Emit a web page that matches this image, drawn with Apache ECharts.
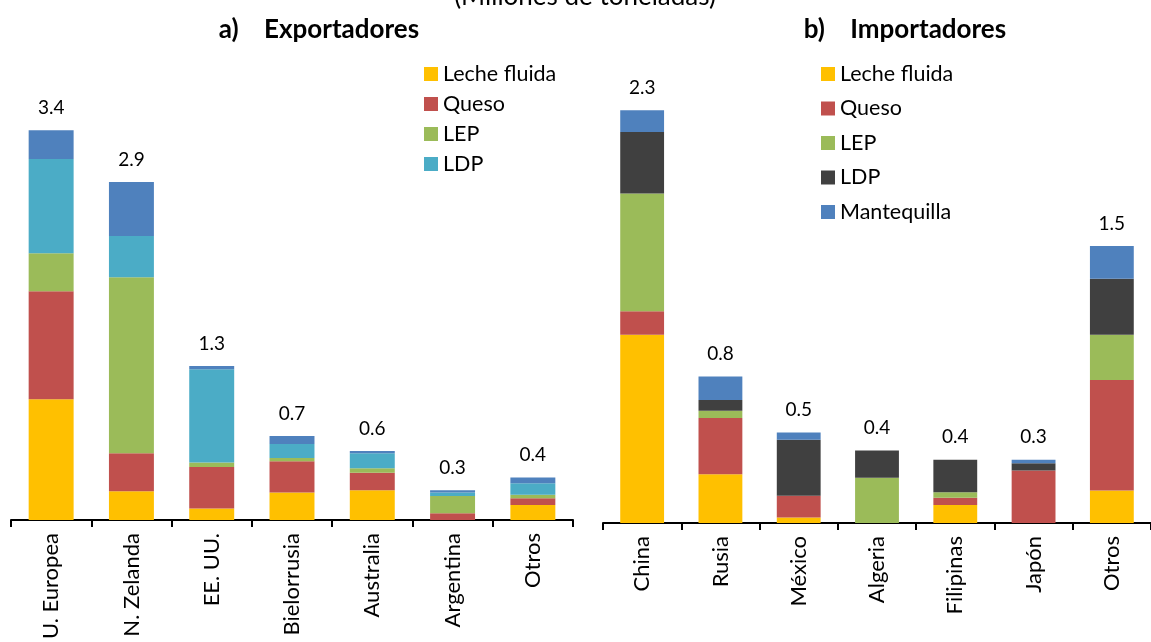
<!DOCTYPE html>
<html>
<head>
<meta charset="utf-8">
<script src="https://cdn.jsdelivr.net/npm/echarts@6/dist/echarts.min.js"></script>
<style>
  html, body { margin: 0; padding: 0; background: #fff; }
  #main { width: 1151px; height: 642px; }
</style>
</head>
<body>
<div id="main"></div>
<script>
// a) Exportadores
var exportCountries = ["U. Europea", "N. Zelanda", "EE. UU.", "Bielorrusia", "Australia", "Argentina", "Otros"];
var expLeche = [1.05, 0.25, 0.10, 0.24, 0.26, 0, 0.13];
var expQueso = [0.94, 0.33, 0.36, 0.27, 0.15, 0.06, 0.06];
var expLEP = [0.33, 1.53, 0.04, 0.03, 0.04, 0.15, 0.03];
var expLDP = [0.82, 0.36, 0.81, 0.12, 0.13, 0.03, 0.10];
var expMant = [0.25, 0.47, 0.03, 0.07, 0.02, 0.02, 0.05];
var expTotals = ["3.4", "2.9", "1.3", "0.7", "0.6", "0.3", "0.4"];

// b) Importadores
var importCountries = ["China", "Rusia", "México", "Algeria", "Filipinas", "Japón", "Otros"];
var impLeche = [1.04, 0.27, 0.03, 0, 0.10, 0, 0.18];
var impQueso = [0.13, 0.31, 0.12, 0, 0.04, 0.29, 0.61];
var impLEP = [0.65, 0.04, 0, 0.25, 0.03, 0, 0.25];
var impLDP = [0.34, 0.06, 0.31, 0.15, 0.18, 0.04, 0.31];
var impMant = [0.12, 0.13, 0.04, 0, 0, 0.02, 0.18];
var impTotals = ["2.3", "0.8", "0.5", "0.4", "0.4", "0.3", "1.5"];

var font = "Lato, 'Open Sans', sans-serif";
var cLeche = "#FFC000", cQueso = "#C0504D", cLEP = "#9BBB59";
var cLDPexp = "#4BACC6", cLDPimp = "#404040", cMant = "#4F81BD";

function seg(name, data, color, idx, stack) {
  return {
    name: name,
    type: "bar",
    stack: stack,
    xAxisIndex: idx,
    yAxisIndex: idx,
    barWidth: "56%",
    data: data,
    itemStyle: { color: color },
    emphasis: { disabled: true }
  };
}

function totals(labels, idx, stack) {
  return {
    name: "Total",
    type: "bar",
    stack: stack,
    xAxisIndex: idx,
    yAxisIndex: idx,
    barWidth: "56%",
    data: labels.map(function () { return 0; }),
    label: {
      show: true,
      position: "top",
      distance: 13,
      fontFamily: font,
      fontSize: 19,
      color: "#000",
      formatter: function (p) { return labels[p.dataIndex]; }
    }
  };
}

function catAxis(cats, idx) {
  return {
    type: "category",
    gridIndex: idx,
    data: cats,
    axisLine: { lineStyle: { color: "#000", width: 2 } },
    axisTick: { show: true, length: 7, lineStyle: { color: "#000", width: 2 } },
    axisLabel: {
      rotate: 90,
      margin: 13,
      interval: 0,
      fontFamily: font,
      fontSize: 22,
      color: "#000"
    }
  };
}

function valAxis(max, idx) {
  return {
    type: "value",
    gridIndex: idx,
    min: 0,
    max: max,
    show: false,
    splitLine: { show: false }
  };
}

var legendText = { fontFamily: font, fontSize: 21.5, color: "#000" };
var titleText = { fontFamily: font, fontSize: 26, fontWeight: "bold", color: "#000" };

var myChart = echarts.init(document.getElementById("main"));
var option = {
  animation: false,
  title: [
    { text: "a)    Exportadores", left: 314, top: 12, textAlign: "center", textStyle: titleText },
    { text: "b)    Importadores", left: 900, top: 12, textAlign: "center", textStyle: titleText }
  ],
  graphic: [
    {
      type: "text",
      x: 585,
      y: -3,
      style: {
        text: "(Millones de toneladas)",
        font: "26px " + font,
        fill: "#000",
        textAlign: "center",
        textVerticalAlign: "middle"
      }
    }
  ],
  legend: [
    {
      orient: "vertical",
      left: 419,
      top: 58,
      itemWidth: 14,
      itemHeight: 14,
      itemGap: 8,
      icon: "rect",
      textStyle: legendText,
      data: [
        { name: "Leche fluida", itemStyle: { color: cLeche } },
        { name: "Queso", itemStyle: { color: cQueso } },
        { name: "LEP", itemStyle: { color: cLEP } },
        { name: "LDP", itemStyle: { color: cLDPexp } }
      ]
    },
    {
      orient: "vertical",
      left: 816,
      top: 58,
      itemWidth: 14,
      itemHeight: 14,
      itemGap: 12.5,
      icon: "rect",
      textStyle: legendText,
      data: [
        { name: "Leche fluida", itemStyle: { color: cLeche } },
        { name: "Queso", itemStyle: { color: cQueso } },
        { name: "LEP", itemStyle: { color: cLEP } },
        { name: "LDP", itemStyle: { color: cLDPimp } },
        { name: "Mantequilla", itemStyle: { color: cMant } }
      ]
    }
  ],
  grid: [
    { left: 11, width: 562, top: 60, height: 462 },
    { left: 603, width: 556, top: 70.5, height: 452.5 }
  ],
  xAxis: [catAxis(exportCountries, 0), catAxis(importCountries, 1)],
  yAxis: [valAxis(4, 0), valAxis(2.5, 1)],
  series: [
    seg("Leche fluida", expLeche, cLeche, 0, "exp"),
    seg("Queso", expQueso, cQueso, 0, "exp"),
    seg("LEP", expLEP, cLEP, 0, "exp"),
    seg("LDP", expLDP, cLDPexp, 0, "exp"),
    seg("Mantequilla", expMant, cMant, 0, "exp"),
    totals(expTotals, 0, "exp"),
    seg("Leche fluida", impLeche, cLeche, 1, "imp"),
    seg("Queso", impQueso, cQueso, 1, "imp"),
    seg("LEP", impLEP, cLEP, 1, "imp"),
    seg("LDP", impLDP, cLDPimp, 1, "imp"),
    seg("Mantequilla", impMant, cMant, 1, "imp"),
    totals(impTotals, 1, "imp")
  ]
};
myChart.setOption(option);
</script>
</body>
</html>
